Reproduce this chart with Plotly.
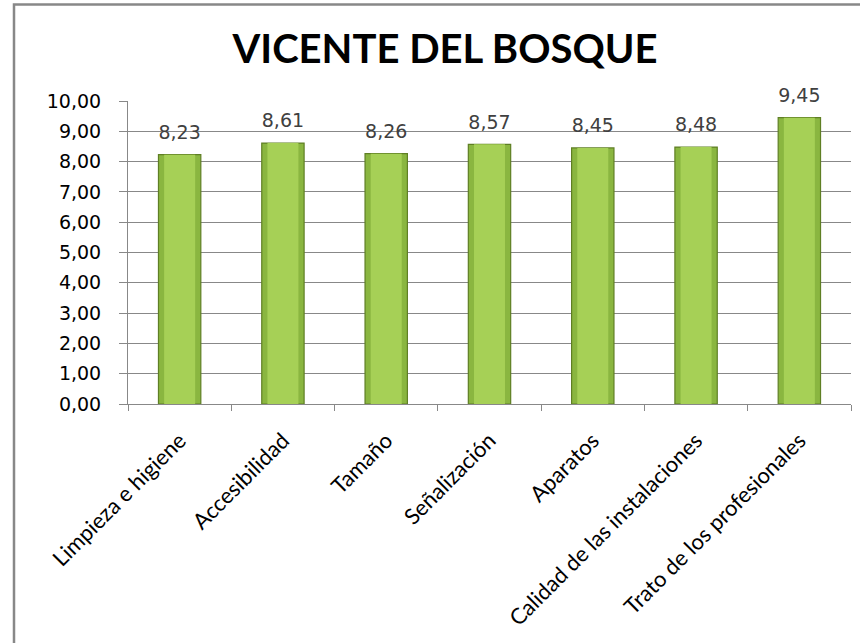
import plotly.graph_objects as go

categories = ["Limpieza e higiene", "Accesibilidad", "Tamaño", "Señalización",
              "Aparatos", "Calidad de las instalaciones", "Trato de los profesionales"]
values = [8.23, 8.61, 8.26, 8.57, 8.45, 8.48, 9.45]
title_text = "VICENTE DEL BOSQUE"

TITLE_FONT = "Lato, Open Sans, sans-serif"
NUM_FONT = "DejaVu Sans, Verdana, sans-serif"

W, H = 860, 643
L, R, T, B = 128, 9, 101, 239
PW, PH = W - L - R, H - T - B

fig = go.Figure()
fig.add_trace(go.Bar(
    x=categories, y=values,
    width=0.41,
    marker=dict(color="#8AB640", line=dict(color="#5F7F24", width=1.2)),
    hoverinfo="skip",
))
# lighter inner highlight to mimic bevel
fig.add_trace(go.Bar(
    x=categories, y=values,
    width=0.30,
    marker=dict(color="#A6D056", line=dict(width=0)),
    hoverinfo="skip",
))
# value labels
fig.add_trace(go.Scatter(
    x=categories, y=values,
    mode="markers+text",
    marker=dict(size=16, opacity=0),
    text=[f"{v:.2f}".replace(".", ",") for v in values],
    textposition="top center",
    textfont=dict(family=NUM_FONT, size=19, color="#404040"),
    cliponaxis=False,
    hoverinfo="skip",
))

fig.update_layout(
    width=W, height=H,
    barmode="overlay",
    showlegend=False,
    separators=",.",
    paper_bgcolor="white", plot_bgcolor="white",
    margin=dict(l=L, r=R, t=T, b=B, autoexpand=False),
    title=dict(text="<b>" + title_text + "</b>", x=445 / W, xanchor="center",
               xref="container", y=1 - 49 / H, yanchor="middle",
               font=dict(family=TITLE_FONT, size=40, color="black")),
    font=dict(family=TITLE_FONT, color="black"),
    shapes=[dict(type="rect", xref="paper", yref="paper",
                 x0=(14 - L) / PW, x1=(W + 20 - L) / PW,
                 y0=-(B + 20) / PH, y1=1 + (T - 4.5) / PH,
                 line=dict(color="#888888", width=2.5), fillcolor="rgba(0,0,0,0)",
                 layer="below")],
)
fig.update_xaxes(
    showline=True, linecolor="#888888", linewidth=1,
    ticks="outside", tickson="boundaries", ticklen=6, tickcolor="#888888",
    tickangle=-45, tickfont=dict(family=TITLE_FONT, size=22, color="black"),
    ticklabelstandoff=14,
    showgrid=False, range=[-0.5, 6.5],
)
fig.update_yaxes(
    range=[0, 10], dtick=1, tickformat=".2f",
    showline=True, linecolor="#888888", linewidth=1,
    ticks="outside", ticklen=8, tickcolor="#888888",
    ticklabelstandoff=14,
    showgrid=True, gridcolor="#888888", gridwidth=1,
    tickfont=dict(family=NUM_FONT, size=19, color="black"),
)

fig.write_html("out.html", config={"displayModeBar": False},
               post_script="document.body.style.margin='0';")
